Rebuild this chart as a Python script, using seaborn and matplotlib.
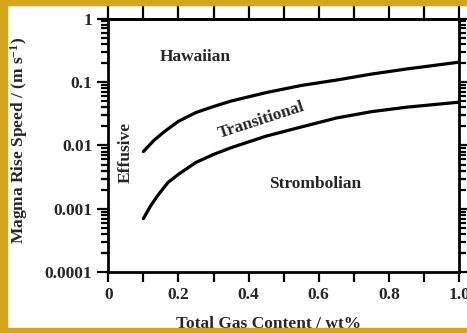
import numpy as np
import pandas as pd
import matplotlib
matplotlib.use("Agg")
import matplotlib.pyplot as plt
from matplotlib.ticker import MultipleLocator, LogLocator, FixedFormatter, FixedLocator, NullFormatter
from matplotlib.patches import Rectangle
import seaborn as sns

# Regime boundaries: magma rise speed (m/s) vs total gas content (wt%)
gas_upper = [0.10, 0.13, 0.16, 0.20, 0.25, 0.30, 0.35, 0.45, 0.55, 0.65, 0.75, 0.85, 1.00]
speed_upper = [0.0080, 0.0120, 0.0165, 0.024, 0.033, 0.041, 0.050, 0.068, 0.088, 0.107, 0.133, 0.160, 0.205]

gas_lower = [0.10, 0.12, 0.14, 0.17, 0.20, 0.25, 0.30, 0.35, 0.45, 0.55, 0.65, 0.75, 0.85, 1.00]
speed_lower = [0.00070, 0.00110, 0.0016, 0.0026, 0.0035, 0.0054, 0.0072, 0.0092, 0.0140, 0.0195, 0.027, 0.034, 0.040, 0.048]

y_ticks = [1, 0.1, 0.01, 0.001, 0.0001]
y_tick_labels = ["1", "0.1", "0.01", "0.001", "0.0001"]
x_ticks = [0, 0.2, 0.4, 0.6, 0.8, 1.0]
x_tick_labels = ["0", "0.2", "0.4", "0.6", "0.8", "1.0"]

regime_names = ["Hawaiian", "Transitional", "Strombolian", "Effusive"]
regime_x = [0.247, 0.437, 0.591, 0.051]
regime_y = [0.247, 0.0251, 0.00245, 0.00785]
regime_rot = [0, 18, 0, 90]

sns.set_style("ticks")
plt.rcParams["font.family"] = ["Liberation Serif", "DejaVu Serif"]
plt.rcParams["font.weight"] = "bold"
plt.rcParams["mathtext.fontset"] = "custom"
plt.rcParams["mathtext.rm"] = "Liberation Serif:bold"
plt.rcParams["mathtext.bf"] = "Liberation Serif:bold"
plt.rcParams["mathtext.default"] = "bf"

fig = plt.figure(figsize=(4.67, 3.33), dpi=100)
fig.patch.set_facecolor("white")
ax = fig.add_axes([0.2319, 0.1823, 0.7510, 0.7621])

df_upper = pd.DataFrame({"gas": gas_upper, "speed": speed_upper})
df_lower = pd.DataFrame({"gas": gas_lower, "speed": speed_lower})
sns.lineplot(data=df_upper, x="gas", y="speed", ax=ax, color="black", linewidth=2.3)
sns.lineplot(data=df_lower, x="gas", y="speed", ax=ax, color="black", linewidth=2.3)

ax.set_yscale("log")
ax.set_xlim(0, 1.0)
ax.set_ylim(0.0001, 1)

ax.xaxis.set_major_locator(FixedLocator(x_ticks))
ax.xaxis.set_major_formatter(FixedFormatter(x_tick_labels))
ax.xaxis.set_minor_locator(MultipleLocator(0.1))
ax.yaxis.set_major_locator(FixedLocator(y_ticks))
ax.yaxis.set_major_formatter(FixedFormatter(y_tick_labels))
ax.yaxis.set_minor_locator(LogLocator(base=10, subs=np.arange(2, 10), numticks=20))
ax.yaxis.set_minor_formatter(NullFormatter())

ax.tick_params(axis="both", which="both", direction="out", top=False, right=True,
               labelright=False, width=1.6, color="black")
ax.tick_params(axis="x", which="both", length=7)
ax.tick_params(axis="y", which="major", length=8)
ax.tick_params(axis="y", which="minor", length=5)
ax.tick_params(axis="both", which="major", labelsize=12.5, pad=3.5)
for lab in ax.get_xticklabels() + ax.get_yticklabels():
    lab.set_fontweight("bold")

# longer unlabeled ticks along the top edge
top = ax.secondary_xaxis("top")
top.xaxis.set_major_locator(MultipleLocator(0.1))
top.tick_params(axis="x", which="major", direction="out", length=10, width=1.6,
                labeltop=False, color="black")
top.xaxis.set_minor_locator(FixedLocator([]))
top.spines["top"].set_linewidth(2.0)

for sp in ax.spines.values():
    sp.set_linewidth(2.0)
    sp.set_color("black")

ax.set_xlabel("Total Gas Content / wt%", fontsize=12.5, fontweight="bold")
ax.set_ylabel("Magma Rise Speed / (m s$^{-1}$)", fontsize=12.5, fontweight="bold")
ax.xaxis.set_label_coords(0.458, -0.172)
ax.yaxis.set_label_coords(-0.224, 0.521)

for name, tx, ty, rot in zip(regime_names, regime_x, regime_y, regime_rot):
    ax.text(tx, ty, name, fontsize=12.5, fontweight="bold", rotation=rot,
            rotation_mode="anchor", ha="center", va="center")

# golden frame strips along the left, top and bottom edges
gold = "#D6A51C"
W, H = 467.0, 333.0
fig.patches.extend([
    Rectangle((0, 0), 6.5 / W, 1, transform=fig.transFigure, color=gold, zorder=10),
    Rectangle((0, 1 - 4.5 / H), 1, 4.5 / H, transform=fig.transFigure, color=gold, zorder=10),
    Rectangle((0, 0), 1, 5 / H, transform=fig.transFigure, color=gold, zorder=10),
])

fig.savefig("out.png", dpi=100, facecolor="white")
